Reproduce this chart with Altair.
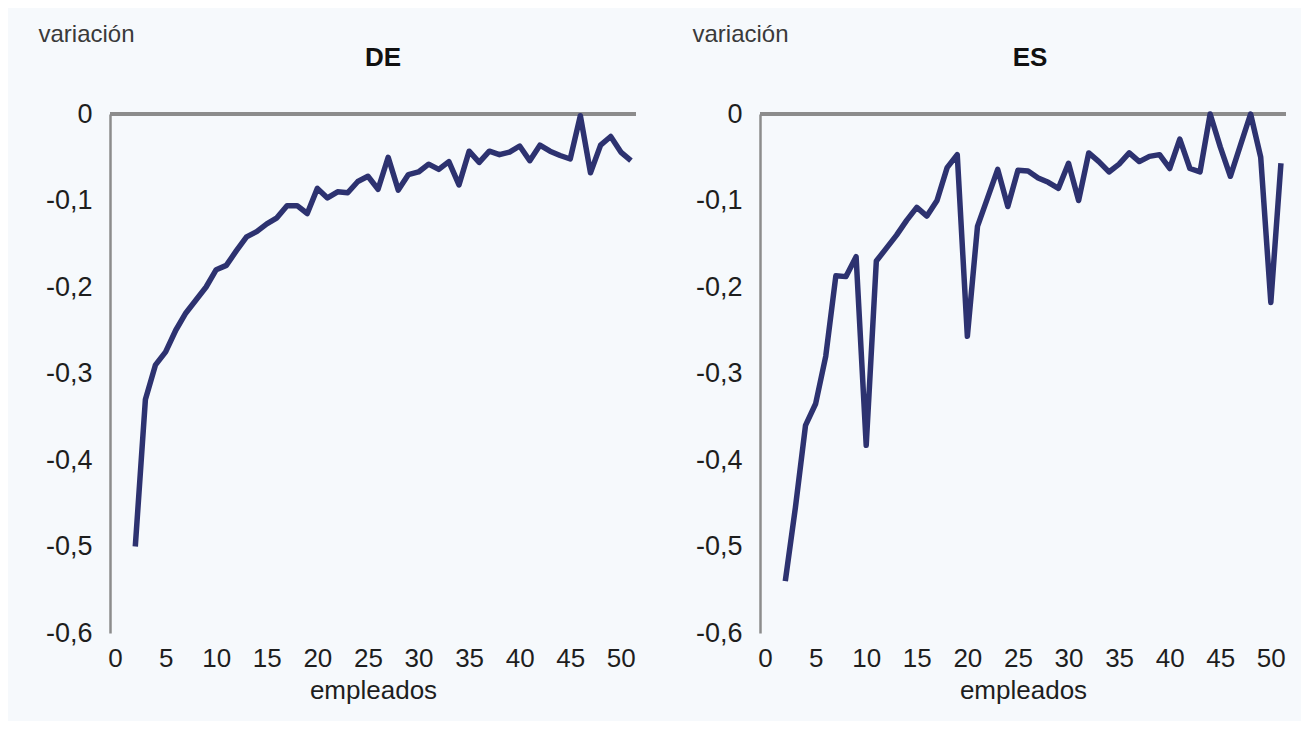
import altair as alt
import pandas as pd

empleados = list(range(2, 52))
de_vals = [-0.50, -0.33, -0.29, -0.275, -0.25, -0.23, -0.215, -0.20, -0.18, -0.175,
           -0.158, -0.142, -0.136, -0.127, -0.12, -0.106, -0.106, -0.115, -0.086, -0.097,
           -0.09, -0.091, -0.078, -0.072, -0.087, -0.05, -0.088, -0.07, -0.067, -0.058,
           -0.064, -0.055, -0.082, -0.043, -0.056, -0.043, -0.047, -0.044, -0.037, -0.054,
           -0.036, -0.043, -0.048, -0.052, -0.002, -0.068, -0.036, -0.026, -0.044, -0.054]
es_vals = [-0.54, -0.455, -0.36, -0.335, -0.28, -0.187, -0.188, -0.165, -0.383, -0.17,
           -0.155, -0.14, -0.123, -0.108, -0.118, -0.10, -0.062, -0.047, -0.257, -0.13,
           -0.097, -0.064, -0.107, -0.065, -0.066, -0.074, -0.079, -0.086, -0.057, -0.10,
           -0.045, -0.055, -0.067, -0.058, -0.045, -0.055, -0.049, -0.047, -0.063, -0.029,
           -0.063, -0.067, 0.0, -0.038, -0.072, -0.036, 0.0, -0.05, -0.218, -0.057]
x_ticks = [0, 5, 10, 15, 20, 25, 30, 35, 40, 45, 50]
y_ticks = [0, -0.1, -0.2, -0.3, -0.4, -0.5, -0.6]
panel_names = ["DE", "ES"]

FONT = "Liberation Sans"
LINE = "#2d3270"
GRAY = "#8c8c8c"
TXT = "#1e1e1e"


def panel(vals, name, title_x, name_x):
    df = pd.DataFrame({"empleados": empleados, "variacion": vals})
    x = alt.X(
        "empleados:Q",
        scale=alt.Scale(domain=[-0.5, 51.5], nice=False, zero=False),
        axis=alt.Axis(values=x_ticks, title="empleados", domain=False, ticks=False,
                      grid=False, labelFontSize=26, labelPadding=12, labelColor=TXT,
                      labelFont=FONT, titleFont=FONT, titleFontSize=26,
                      titleFontWeight="normal", titleColor=TXT, titlePadding=6,
                      labelFlush=False, labelOverlap=False),
    )
    y = alt.Y(
        "variacion:Q",
        scale=alt.Scale(domain=[-0.6, 0], nice=False, zero=False),
        axis=alt.Axis(values=y_ticks, title="variación", titleAngle=0,
                      titleAlign="left", titleBaseline="alphabetic",
                      titleX=title_x, titleY=-73, titleFont=FONT, titleFontSize=24,
                      titleFontWeight="normal", titleColor="#3a3a3a",
                      labelExpr="datum.value == 0 ? '0' : '-0,' + round(-datum.value*10)",
                      domain=True, domainColor=GRAY, domainWidth=2.5, ticks=False,
                      grid=False, labelFontSize=27, labelPadding=18, labelColor=TXT,
                      labelFont=FONT, labelOverlap=False),
    )
    top = alt.Chart(df).mark_rule(color=GRAY, strokeWidth=3).encode(y=alt.datum(0))
    line = alt.Chart(df).mark_line(color=LINE, strokeWidth=5.5, clip=False,
                                   strokeJoin="round").encode(x=x, y=y)
    label = alt.Chart(pd.DataFrame({"name": [name]})).mark_text(
        font=FONT, fontSize=26, fontWeight="bold", color="#111111",
        align="center", baseline="alphabetic",
    ).encode(text="name:N", x=alt.value(name_x), y=alt.value(-48))
    return alt.layer(top, line, label).properties(width=526, height=519)


chart = alt.hconcat(
    panel(de_vals, panel_names[0], -72, 273),
    panel(es_vals, panel_names[1], -68, 270),
    spacing=54,
).properties(
    padding={"left": 30, "top": 14, "right": 13, "bottom": 18},
    background="#f6f9fc",
).configure_view(stroke=None)

chart.save("out.html", embed_options={"renderer": "svg", "actions": False})
